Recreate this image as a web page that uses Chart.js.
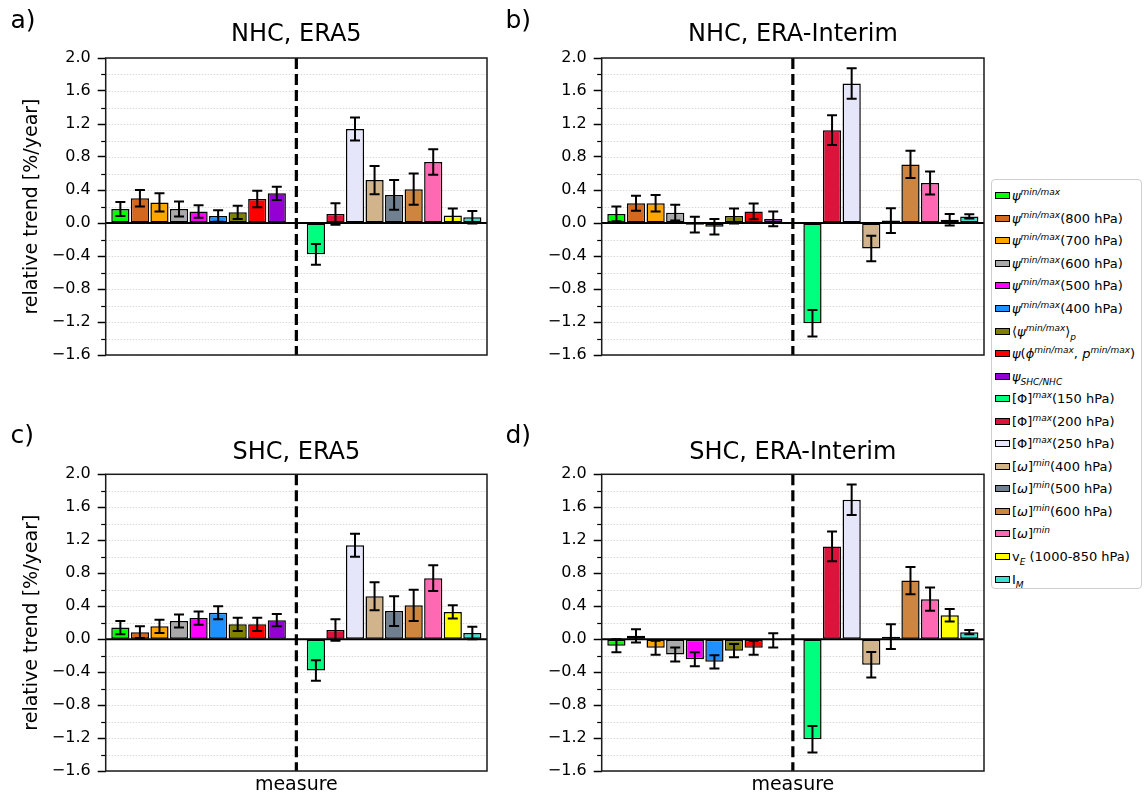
<!DOCTYPE html>
<html>
<head>
<meta charset="utf-8">
<script src="https://cdn.jsdelivr.net/npm/chart.js@4.4.1/dist/chart.umd.min.js"></script>
<style>
    body { margin: 0; background: #fff; }
    #fig { position: relative; width: 1146px; height: 800px; font-family: "DejaVu Sans", sans-serif; color: #000; }
    canvas { position: absolute; }
    .tag { position: absolute; font-size: 25px; line-height: 25px; }
    #legend {
        position: absolute; left: 991px; top: 179px; width: 151px; height: 410px;
        box-sizing: border-box; border: 1px solid #cfcfcf; border-radius: 4px;
        padding-top: 4.5px; font-size: 13px;
    }
    .row { height: 22.55px; display: flex; align-items: center; padding-left: 3px; white-space: nowrap; }
    .sw { width: 13px; height: 5px; border: 1.5px solid #000; margin-right: 2px; flex: none; }
    .row i { font-style: italic; }
    .row sup, .row sub { font-size: 9px; line-height: 0; font-style: italic; }
</style>
</head>
<body>
<div id="fig">
    <canvas id="panelA" width="495" height="410" style="left:0;top:0"></canvas>
    <canvas id="panelB" width="495" height="410" style="left:495px;top:0"></canvas>
    <canvas id="panelC" width="495" height="390" style="left:0;top:410px"></canvas>
    <canvas id="panelD" width="495" height="390" style="left:495px;top:410px"></canvas>
    <div class="tag" style="left:10.5px;top:7px">a)</div>
    <div class="tag" style="left:505.5px;top:7px">b)</div>
    <div class="tag" style="left:10.5px;top:422px">c)</div>
    <div class="tag" style="left:505.5px;top:422px">d)</div>
    <div id="legend"></div>
</div>
<script>
// measures: 9 streamfunction based ones left of the dashed line, the rest right of it
const psiMeasures = [
    '<i>ψ</i><sup>min/max</sup>',
    '<i>ψ</i><sup>min/max</sup>(800 hPa)',
    '<i>ψ</i><sup>min/max</sup>(700 hPa)',
    '<i>ψ</i><sup>min/max</sup>(600 hPa)',
    '<i>ψ</i><sup>min/max</sup>(500 hPa)',
    '<i>ψ</i><sup>min/max</sup>(400 hPa)',
    '⟨<i>ψ</i><sup>min/max</sup>⟩<sub>p</sub>',
    '<i>ψ</i>(<i>ϕ</i><sup>min/max</sup>, <i>p</i><sup>min/max</sup>)',
    '<i>ψ</i><sub>SHC/NHC</sub>'
];
const otherMeasures = [
    '[Φ]<sup>max</sup>(150 hPa)',
    '[Φ]<sup>max</sup>(200 hPa)',
    '[Φ]<sup>max</sup>(250 hPa)',
    '[<i>ω</i>]<sup>min</sup>(400 hPa)',
    '[<i>ω</i>]<sup>min</sup>(500 hPa)',
    '[<i>ω</i>]<sup>min</sup>(600 hPa)',
    '[<i>ω</i>]<sup>min</sup>',
    'v<sub>E</sub> (1000-850 hPa)',
    'I<sub>M</sub>'
];
const barColors = ['#00ff00', '#d2691e', '#ffa500', '#a9a9a9', '#ff00ff', '#1e90ff', '#808000', '#ff0000', '#9400d3',
    '#00ff7f', '#dc143c', '#e6e6fa', '#d2b48c', '#708090', '#cd853f', '#ff69b4', '#ffff00', '#40e0d0'];

// relative trends [%/year] and their uncertainties
const nhcEra5 = [0.17, 0.30, 0.25, 0.17, 0.14, 0.085, 0.13, 0.29, 0.36, -0.38, 0.11, 1.14, 0.52, 0.34, 0.41, 0.74, 0.09, 0.07];
const nhcEra5Err = [0.085, 0.10, 0.11, 0.09, 0.075, 0.07, 0.08, 0.10, 0.08, 0.125, 0.13, 0.14, 0.17, 0.18, 0.19, 0.155, 0.085, 0.075];
const nhcErai = [0.11, 0.24, 0.24, 0.125, -0.02, -0.045, 0.085, 0.14, 0.05, -1.215, 1.125, 1.69, -0.31, 0.03, 0.71, 0.485, 0.04, 0.08];
const nhcEraiErr = [0.09, 0.09, 0.10, 0.095, 0.095, 0.095, 0.09, 0.095, 0.09, 0.16, 0.18, 0.185, 0.155, 0.15, 0.165, 0.14, 0.07, 0.025];
const shcEra5 = [0.14, 0.085, 0.155, 0.22, 0.255, 0.32, 0.18, 0.18, 0.23, -0.38, 0.11, 1.14, 0.52, 0.34, 0.41, 0.74, 0.33, 0.075];
const shcEra5Err = [0.08, 0.07, 0.08, 0.08, 0.08, 0.08, 0.08, 0.08, 0.075, 0.125, 0.13, 0.14, 0.17, 0.18, 0.19, 0.155, 0.08, 0.075];
const shcErai = [-0.08, 0.04, -0.105, -0.185, -0.245, -0.275, -0.14, -0.105, -0.015, -1.215, 1.125, 1.69, -0.31, 0.03, 0.71, 0.485, 0.29, 0.085];
const shcEraiErr = [0.08, 0.08, 0.085, 0.085, 0.085, 0.08, 0.08, 0.085, 0.085, 0.16, 0.18, 0.185, 0.155, 0.15, 0.165, 0.14, 0.075, 0.025];

const yMin = -1.6, yMax = 2.0, yStep = 0.2;
const FONT = "'DejaVu Sans'";
const MINUS = '\u2212';

const measures = psiMeasures.concat(otherMeasures);
const dividerPos = psiMeasures.length;            // empty slot holding the dashed line
const slotOf = i => (i < dividerPos ? i : i + 1);
const isMajor = v => Math.abs(Math.round(v * 10)) % 4 === 0;
const fmtTick = v => {
    const s = Math.abs(v).toFixed(1);
    return v < -1e-9 ? MINUS + s : s;
};

// legend
const legend = document.getElementById('legend');
measures.forEach((m, i) => {
    const row = document.createElement('div');
    row.className = 'row';
    row.innerHTML = `<span class="sw" style="background:${barColors[i]}"></span><span>${m}</span>`;
    legend.appendChild(row);
});

// grid, frame, zero line, divider and error bars
const decorPlugin = {
    id: 'decor',
    beforeDatasetsDraw(chart) {
        const { ctx, chartArea: a, scales: { y } } = chart;
        ctx.save();
        ctx.strokeStyle = '#d8d8d8';
        ctx.lineWidth = 1;
        ctx.setLineDash([1.5, 1.5]);
        y.ticks.forEach(t => {
            const py = Math.round(y.getPixelForValue(t.value)) + 0.5;
            ctx.beginPath(); ctx.moveTo(a.left, py); ctx.lineTo(a.right, py); ctx.stroke();
        });
        ctx.restore();
    },
    afterDatasetsDraw(chart) {
        const { ctx, chartArea: a, scales: { x, y } } = chart;
        const ds = chart.data.datasets[0];
        ctx.save();
        // zero line
        ctx.strokeStyle = '#000';
        ctx.lineWidth = 2;
        const y0 = y.getPixelForValue(0);
        ctx.beginPath(); ctx.moveTo(a.left, y0); ctx.lineTo(a.right, y0); ctx.stroke();
        // dashed divider
        const xd = x.getPixelForValue(dividerPos);
        ctx.lineWidth = 3.2;
        ctx.setLineDash([11, 5]);
        ctx.beginPath(); ctx.moveTo(xd, a.top); ctx.lineTo(xd, a.bottom); ctx.stroke();
        ctx.setLineDash([]);
        // error bars
        ctx.lineWidth = 2;
        chart.getDatasetMeta(0).data.forEach((bar, i) => {
            const v = ds.data[i].y, e = ds.errors[i];
            const yt = y.getPixelForValue(v + e), yb = y.getPixelForValue(v - e);
            ctx.beginPath();
            ctx.moveTo(bar.x, yt); ctx.lineTo(bar.x, yb);
            ctx.moveTo(bar.x - 5, yt); ctx.lineTo(bar.x + 5, yt);
            ctx.moveTo(bar.x - 5, yb); ctx.lineTo(bar.x + 5, yb);
            ctx.stroke();
        });
        // minor ticks
        ctx.lineWidth = 1.2;
        y.ticks.forEach(t => {
            if (isMajor(t.value)) return;
            const py = Math.round(y.getPixelForValue(t.value)) + 0.5;
            ctx.beginPath(); ctx.moveTo(a.left - 4.5, py); ctx.lineTo(a.left, py); ctx.stroke();
        });
        // frame
        ctx.lineWidth = 1.5;
        ctx.strokeStyle = '#1a1a1a';
        ctx.strokeRect(a.left, a.top, a.right - a.left, a.bottom - a.top);
        ctx.restore();
    }
};

function makePanel(id, title, values, errors, opt) {
    const ctx = document.getElementById(id).getContext('2d');
    return new Chart(ctx, {
        type: 'bar',
        data: {
            datasets: [{
                data: values.map((v, i) => ({ x: slotOf(i), y: v })),
                errors: errors,
                backgroundColor: barColors,
                borderColor: '#000',
                borderWidth: 1.5,
                borderSkipped: false,
                barPercentage: 0.93,
                categoryPercentage: 1
            }]
        },
        options: {
            responsive: false,
            animation: false,
            layout: { padding: { left: 0, top: 0, right: opt.padRight, bottom: opt.padBottom } },
            plugins: {
                legend: { display: false },
                tooltip: { enabled: false },
                title: {
                    display: true,
                    text: title,
                    fullSize: false,
                    color: '#000',
                    font: { family: FONT, size: 24, weight: 'normal' },
                    padding: { top: opt.titleTop, bottom: opt.titleBottom }
                }
            },
            scales: {
                x: {
                    type: 'linear',
                    min: -0.75,
                    max: measures.length + 0.75,
                    offset: false,
                    display: opt.xTitle,
                    grid: { display: false },
                    border: { display: false },
                    ticks: { display: false },
                    title: {
                        display: opt.xTitle,
                        text: 'measure',
                        color: '#000',
                        font: { family: FONT, size: 19 },
                        padding: { top: 0, bottom: 3.3 }
                    },
                    afterFit: s => { s.height = opt.padXAxis; }
                },
                y: {
                    min: yMin,
                    max: yMax,
                    grid: {
                        drawOnChartArea: false,
                        tickLength: 8,
                        tickWidth: 1.5,
                        tickColor: c => (c.tick && isMajor(c.tick.value) ? '#000' : 'rgba(0,0,0,0)')
                    },
                    border: { display: false },
                    ticks: {
                        stepSize: yStep,
                        autoSkip: false,
                        padding: 7,
                        color: '#000',
                        font: { family: FONT, size: 16 },
                        callback: v => (isMajor(v) ? fmtTick(v) : '')
                    },
                    title: {
                        display: opt.yTitle,
                        text: 'relative trend [%/year]',
                        color: '#000',
                        font: { family: FONT, size: 19 },
                        padding: { top: 20.6, bottom: 0 }
                    },
                    afterFit: s => { s.width = opt.yWidth; }
                }
            }
        },
        plugins: [decorPlugin]
    });
}

makePanel('panelA', 'NHC, ERA5', nhcEra5, nhcEra5Err,
    { yTitle: true, xTitle: false, yWidth: 105.7, padRight: 8, padBottom: 55, padXAxis: 0, titleTop: 20.6, titleBottom: 8.6 });
makePanel('panelB', 'NHC, ERA-Interim', nhcErai, nhcEraiErr,
    { yTitle: false, xTitle: false, yWidth: 106.7, padRight: 6, padBottom: 55, padXAxis: 0, titleTop: 20.6, titleBottom: 8.6 });
makePanel('panelC', 'SHC, ERA5', shcEra5, shcEra5Err,
    { yTitle: true, xTitle: true, yWidth: 105.7, padRight: 8, padBottom: 0, padXAxis: 29, titleTop: 28.1, titleBottom: 7.4 });
makePanel('panelD', 'SHC, ERA-Interim', shcErai, shcEraiErr,
    { yTitle: false, xTitle: true, yWidth: 106.7, padRight: 6, padBottom: 0, padXAxis: 29, titleTop: 28.1, titleBottom: 7.4 });
</script>
</body>
</html>
